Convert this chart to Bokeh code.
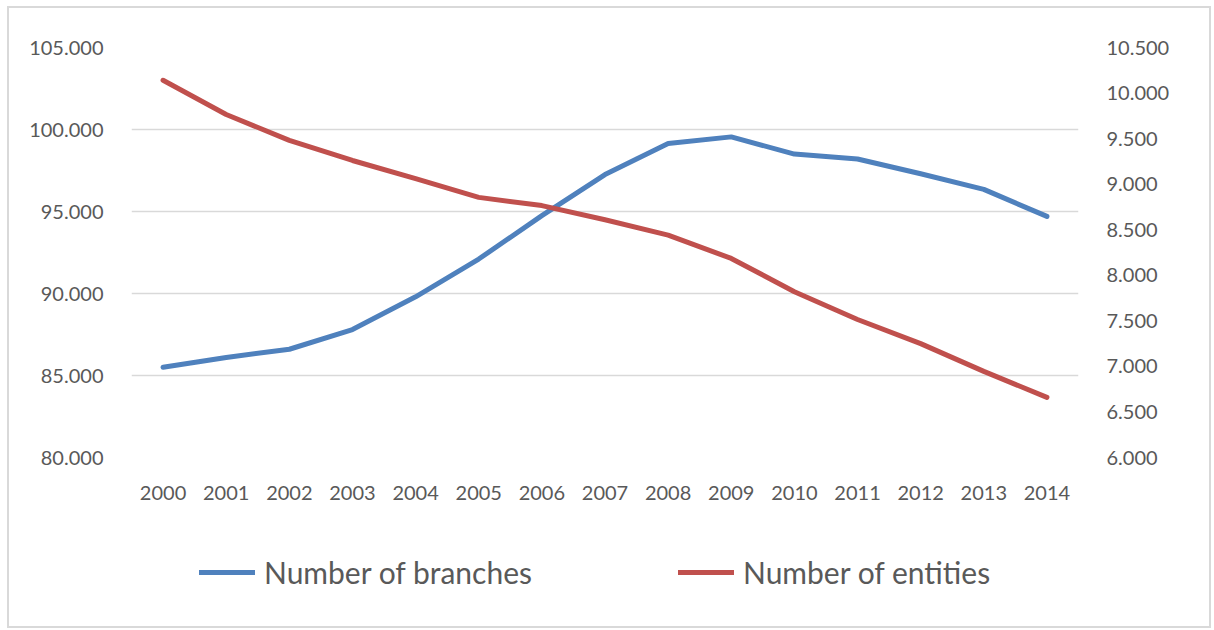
from bokeh.plotting import figure
from bokeh.layouts import column
from bokeh.models import (Range1d, LinearAxis, FixedTicker, CustomJSTickFormatter,
                          Legend, LegendItem, FactorRange)
from bokeh.embed import file_html
from bokeh.resources import INLINE

years = [str(y) for y in range(2000, 2015)]
branches = [85500, 86100, 86600, 87800, 89800, 92100, 94750, 97250,
            99150, 99550, 98500, 98200, 97300, 96350, 94700]
entities = [10140, 9765, 9480, 9260, 9060, 8855, 8765, 8610,
            8440, 8185, 7820, 7515, 7250, 6945, 6660]
series_names = ["Number of branches", "Number of entities"]
series_colors = ["#4F81BD", "#C0504D"]
left_ticks = [80000, 85000, 90000, 95000, 100000, 105000]
right_ticks = [6000, 6500, 7000, 7500, 8000, 8500, 9000, 9500, 10000, 10500]

FONT = "Lato"
GRAY = "#595959"

# ---------------- main chart ----------------
p = figure(x_range=FactorRange(*years, range_padding=0),
           y_range=Range1d(80000, 105000),
           width=1200, height=512,
           output_backend="svg", toolbar_location=None,
           min_border_left=122, min_border_right=131, min_border_top=39,
           min_border_bottom=63)
p.outline_line_color = None
p.extra_y_ranges = {"ent": Range1d(6000, 10500)}

fmt = CustomJSTickFormatter(code="""
return Math.round(tick).toString().replace(/\\B(?=(\\d{3})+(?!\\d))/g, ".");
""")

p.yaxis.ticker = FixedTicker(ticks=left_ticks)
p.yaxis.formatter = fmt

ax_r = LinearAxis(y_range_name="ent", ticker=FixedTicker(ticks=right_ticks), formatter=fmt)
p.add_layout(ax_r, "right")

for ax in p.axis:
    ax.axis_line_color = None
    ax.major_tick_line_color = None
    ax.minor_tick_line_color = None
    ax.major_label_text_color = GRAY
    ax.major_label_text_font = FONT
    ax.major_label_text_font_size = "20px"
    ax.major_label_standoff = 22

p.xgrid.grid_line_color = None
p.ygrid.grid_line_color = "#d9d9d9"
p.ygrid.grid_line_width = 1.5

p.line(years, branches, line_color=series_colors[0], line_width=5,
       line_cap="round", line_join="round")
p.line(years, entities, y_range_name="ent", line_color=series_colors[1], line_width=5,
       line_cap="round", line_join="round")

# ---------------- legend strip ----------------
# same series drawn again, but outside this strip's visible y range, so only
# their legend entries show
lg = figure(x_range=FactorRange(*years, range_padding=0), y_range=Range1d(0, 1),
            width=1200, height=106,
            output_backend="svg", toolbar_location=None, min_border=0)
lg.axis.visible = False
lg.grid.visible = False
lg.outline_line_color = None

items = []
for name, col, vals in zip(series_names, series_colors, [branches, entities]):
    r = lg.line(years, vals, line_color=col, line_width=5, line_cap="round")
    items.append(LegendItem(label=name, renderers=[r]))

legend = Legend(items=items, orientation="horizontal", location=(68, 36),
                label_text_font=FONT, label_text_font_size="30px",
                label_text_color=GRAY, glyph_width=56, glyph_height=36,
                label_standoff=9, spacing=146, padding=0, margin=0,
                border_line_color=None, background_fill_alpha=0)
lg.add_layout(legend, "center")

layout = column(p, lg, spacing=0, margin=(6, 0, 0, 7),
                styles={"border": "2px solid #d9d9d9"})

open("out.html", "w").write(file_html(layout, INLINE))
